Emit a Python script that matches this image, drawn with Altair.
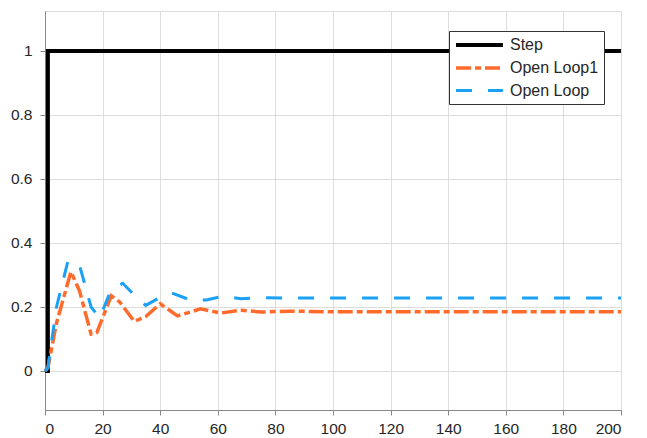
import altair as alt
import pandas as pd

series_names = ["Step", "Open Loop1", "Open Loop"]
series_colors = ["#000000", "#FF6B2C", "#1AA0F5"]
series_dashes = [[1, 0], [15, 4, 6, 4], [16, 16]]
series_widths = [4, 3, 3]

step_x = [0, 1, 1, 200]
step_y = [0, 0, 1, 1]

loop1_x = [0, 1, 4, 9, 12, 16, 18, 23, 26, 31, 35, 40, 46, 54, 61, 68, 75, 85, 100, 120, 150, 200]
loop1_y = [0, 0.01, 0.15, 0.31, 0.25, 0.115, 0.12, 0.235, 0.215, 0.155, 0.17, 0.21, 0.172, 0.194,
           0.181, 0.19, 0.184, 0.187, 0.185, 0.185, 0.185, 0.185]

loop_x = [0, 1, 4, 8, 12, 16, 19, 23, 27, 32, 35, 40, 44, 51, 56, 62, 68, 75, 85, 100, 200]
loop_y = [0, 0.01, 0.2, 0.345, 0.33, 0.2, 0.166, 0.255, 0.274, 0.228, 0.205, 0.23, 0.244, 0.22,
          0.222, 0.234, 0.226, 0.229, 0.228, 0.228, 0.228]

x_ticks = list(range(0, 201, 20))
y_ticks = [0, 0.2, 0.4, 0.6, 0.8, 1]

rows = []
for name, xs, ys in [("Step", step_x, step_y), ("Open Loop1", loop1_x, loop1_y), ("Open Loop", loop_x, loop_y)]:
    for i, (xv, yv) in enumerate(zip(xs, ys)):
        rows.append({"series": name, "t": xv, "v": yv, "i": i})
df = pd.DataFrame(rows)

font = "Liberation Sans"
axis_fs = 15.5

legend_common = dict(
    title=None, orient="none", legendX=404, legendY=20,
    symbolType="M-1,0H5.7", symbolSize=196, symbolStrokeWidth=3.5,
    labelFontSize=16, labelFont=font, labelColor="#262626",
    labelExpr="datum.label + '\u00a0\u00a0'",
    fillColor="white", strokeColor="#333333", padding=5,
    rowPadding=6, labelOffset=38, cornerRadius=0,
)

chart = alt.Chart(df).mark_line(strokeCap="butt", strokeJoin="miter").encode(
    x=alt.X("t:Q", scale=alt.Scale(domain=[0, 200], nice=False),
            axis=alt.Axis(values=x_ticks, title=None, format="d", labelPadding=6,
                          labelFont=font, labelFontSize=axis_fs, labelColor="#262626")),
    y=alt.Y("v:Q", scale=alt.Scale(domain=[-0.122, 1.125], nice=False, zero=False),
            axis=alt.Axis(values=y_ticks, title=None, labelPadding=8,
                          labelFont=font, labelFontSize=axis_fs, labelColor="#262626",
                          labelExpr="datum.value == 0 ? '0' : datum.value == 1 ? '1' : format(datum.value, '.1f')")),
    color=alt.Color("series:N", scale=alt.Scale(domain=series_names, range=series_colors),
                    legend=alt.Legend(**legend_common)),
    strokeDash=alt.StrokeDash("series:N", scale=alt.Scale(domain=series_names, range=series_dashes),
                              legend=alt.Legend(**legend_common)),
    strokeWidth=alt.StrokeWidth("series:N", scale=alt.Scale(domain=series_names, range=series_widths),
                                legend=None),
    detail="series:N",
    order="i:Q",
).properties(
    width=576, height=399,
    autosize=alt.AutoSizeParams(type="none"),
    padding={"left": 45, "top": 11, "right": 26, "bottom": 28},
).configure_view(
    stroke="#333333", strokeWidth=1
).configure_axis(
    grid=True, gridColor="#bfbfbf", gridWidth=1, ticks=False,
    domainColor="#333333",
).configure(background="white")

chart.save("out.html", embed_options={"renderer": "svg", "actions": False})
